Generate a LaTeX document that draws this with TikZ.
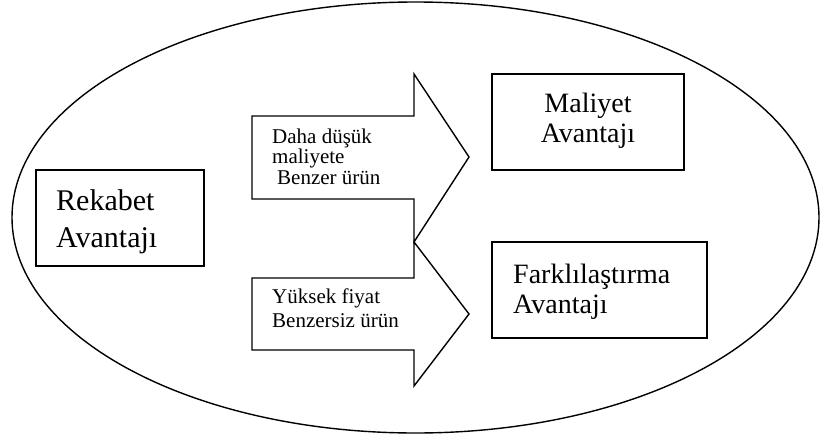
\documentclass[tikz,border=0pt]{standalone}
\usepackage{fontspec}
\setmainfont{Liberation Serif}
\begin{document}
\begin{tikzpicture}[x=1pt,y=-1pt,
  outline/.style={draw=black,line width=1.4pt,line join=miter},
  boxshape/.style={outline,fill=white},
  bigtext/.style={font=\fontsize{30}{37}\selectfont,align=left,inner sep=0pt},
  midtext/.style={font=\fontsize{28}{30}\selectfont,align=left,inner sep=0pt},
  smalltext/.style={font=\fontsize{21}{20.5}\selectfont,align=left,inner sep=0pt}]
\useasboundingbox (0,0) rectangle (821,439);

% surrounding ellipse
\draw[outline] (415.5,217.5) ellipse [x radius=403.5, y radius=215.5];

% box corners
\coordinate (rk1) at (36,170);  \coordinate (rk2) at (204,266);
\coordinate (ml1) at (492,74);  \coordinate (ml2) at (684,170);
\coordinate (fk1) at (492,242); \coordinate (fk2) at (707,338);

\draw[boxshape] (rk1) rectangle (rk2);
\draw[boxshape] (ml1) rectangle (ml2);
\draw[boxshape] (fk1) rectangle (fk2);

% upper block arrow
\draw[boxshape] (252,116) -- (414,116) -- (414,74) -- (469,157)
  -- (414,242) -- (414,199) -- (252,199) -- cycle;
% lower block arrow
\draw[boxshape] (252,278) -- (414,278) -- (414,242) -- (469,314)
  -- (414,386) -- (414,350) -- (252,350) -- cycle;

% texts (base anchor sits on the last line)
\node[bigtext,anchor=base west] (rekabet) at (56,247) {Rekabet\\Avantajı};
\node[midtext,anchor=base,align=center] (maliyet) at (588,142) {Maliyet\\Avantajı};
\node[midtext,anchor=base west] (fark) at (513,313) {Farklılaştırma\\Avantajı};
\node[smalltext,anchor=base west] (dusuk) at (272,184) {Daha düşük\\maliyete\\\hspace*{5pt}Benzer ürün};
\node[smalltext,anchor=base west,font=\fontsize{21}{24}\selectfont] (yuksek) at (272,327) {Yüksek fiyat\\Benzersiz ürün};
\end{tikzpicture}
\end{document}
